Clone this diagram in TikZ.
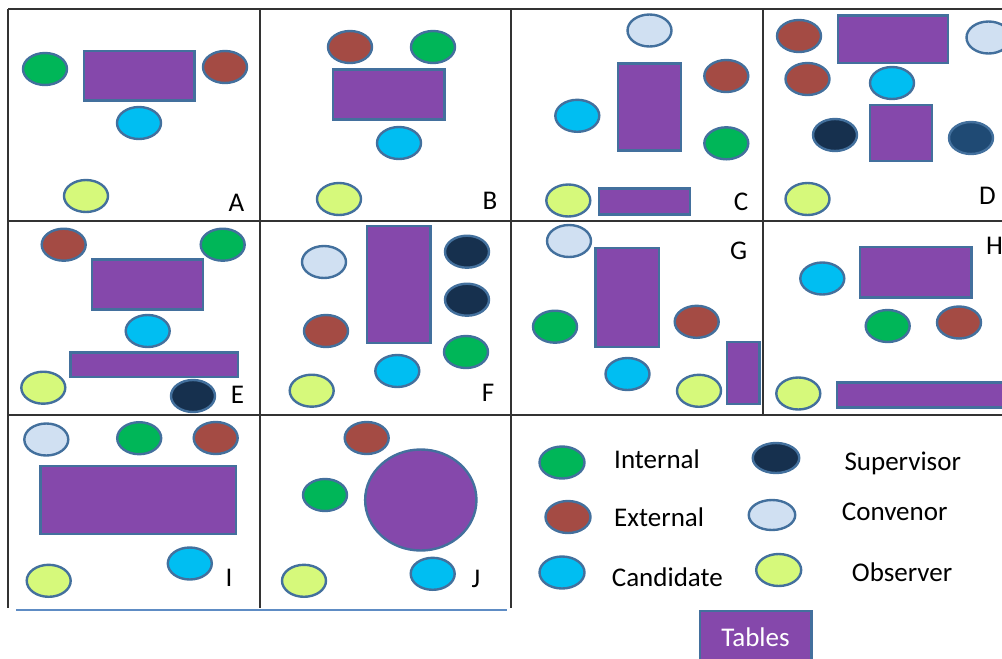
\documentclass[tikz,border=0pt]{standalone}
\usepackage{fontspec}
\setmainfont{Carlito}
\usetikzlibrary{shapes.geometric}

\definecolor{edgeC}{HTML}{43709D}
\definecolor{deskC}{HTML}{8548AB}
\definecolor{gridC}{HTML}{333333}
\definecolor{baseC}{HTML}{5E8CC4}
\definecolor{intC}{HTML}{00B658}
\definecolor{extC}{HTML}{A44B44}
\definecolor{candC}{HTML}{00BEF2}
\definecolor{obsC}{HTML}{D6F97B}
\definecolor{supC}{HTML}{16304E}
\definecolor{convC}{HTML}{D0E0F2}
\definecolor{deepC}{HTML}{1F4A74}

\begin{document}
\begin{tikzpicture}[x=1pt,y=-1pt,
  seat/.style={ellipse, draw=edgeC, line width=2.4pt, minimum width=44pt,
    minimum height=32pt, inner sep=0pt},
  int/.style={seat, fill=intC},
  ext/.style={seat, fill=extC},
  cand/.style={seat, fill=candC},
  obs/.style={seat, fill=obsC},
  sup/.style={seat, fill=supC},
  conv/.style={seat, fill=convC},
  deep/.style={seat, fill=deepC},
  desk/.style={draw=edgeC, fill=deskC, line width=2.4pt},
  rule/.style={draw=gridC, line width=1.6pt},
  tag/.style={font=\fontsize{27}{30}\selectfont, inner sep=0pt, anchor=base},
  key/.style={font=\fontsize{27}{30}\selectfont, inner sep=0pt, anchor=base west}]

\useasboundingbox (0,0) rectangle (1002,659);
\clip (0,0) rectangle (1002,659);

% grid of layouts
\draw[rule] (8,9) -- (1010,9);
\draw[rule] (8,221) -- (1010,221);
\draw[rule] (8,415) -- (1010,415);
\draw[rule] (8,9) -- (8,608);
\draw[rule] (260,9) -- (260,608);
\draw[rule] (511,9) -- (511,608);
\draw[rule] (763,9) -- (763,415);
\draw[draw=baseC, line width=1.5pt] (16,610) -- (507,610);

% layout A
\draw[desk] (84,51.2) rectangle (194.5,100.5);
\node[int]  (a1) at (45,69) {};
\node[ext]  (a2) at (225,67) {};
\node[cand] (a3) at (139,123) {};
\node[obs]  (a4) at (86,196) {};
\node[tag]  (la) at (236.5,211) {A};

% layout B
\draw[desk] (333,69.5) rectangle (444.5,119.5);
\node[ext]  (b1) at (350,47) {};
\node[int]  (b2) at (433,47) {};
\node[cand] (b3) at (399,143) {};
\node[obs]  (b4) at (339,199) {};
\node[tag]  (lb) at (490,209) {B};

% layout C
\draw[desk] (618,63.5) rectangle (681,150.5);
\draw[desk] (599,188.5) rectangle (690,214.5);
\node[conv] (c1) at (649.5,30.5) {};
\node[ext]  (c2) at (726.3,76) {};
\node[cand] (c3) at (577.3,115.8) {};
\node[int]  (c4) at (726.3,143.3) {};
\node[obs]  (c5) at (568.3,200.5) {};
\node[tag]  (lc) at (741,210) {C};

% layout D
\draw[desk] (838,15.5) rectangle (948,62.8);
\draw[desk] (870.2,105) rectangle (932,161);
\node[ext]  (d1) at (799,36) {};
\node[conv] (d2) at (988.5,37.5) {};
\node[ext]  (d3) at (807.5,79) {};
\node[cand] (d4) at (892,83) {};
\node[sup]  (d5) at (835,135) {};
\node[deep] (d6) at (971,138) {};
\node[obs]  (d7) at (807.5,199) {};
\node[tag]  (ld) at (987.5,204) {D};

% layout E
\draw[desk] (92,259.5) rectangle (203,309.5);
\draw[desk] (70.5,352.5) rectangle (237.8,377);
\node[ext]  (e1) at (63.7,244.7) {};
\node[int]  (e2) at (222.7,244.7) {};
\node[cand] (e3) at (147.7,331) {};
\node[obs]  (e4) at (43.3,387.7) {};
\node[sup]  (e5) at (193,396) {};
\node[tag]  (le) at (237.5,403.3) {E};

% layout F
\draw[desk] (367,226.2) rectangle (430.5,342.8);
\node[conv] (f1) at (324,262) {};
\node[sup]  (f2) at (467,251.7) {};
\node[sup]  (f3) at (467,299.7) {};
\node[ext]  (f4) at (326,331) {};
\node[int]  (f5) at (466,352) {};
\node[cand] (f6) at (397.3,371) {};
\node[obs]  (f7) at (311.7,390.7) {};
\node[tag]  (lf) at (488,401.7) {F};

% layout G
\draw[desk] (595.5,248) rectangle (658.8,347);
\draw[desk] (727,342.2) rectangle (759.5,403.8);
\node[conv] (g1) at (569,241) {};
\node[int]  (g2) at (555,326.7) {};
\node[ext]  (g3) at (696.7,321.8) {};
\node[cand] (g4) at (627.5,374) {};
\node[obs]  (g5) at (699,390.8) {};
\node[tag]  (lg) at (738.7,259.3) {G};

% layout H
\draw[desk] (860.2,247) rectangle (971.5,297.5);
\draw[desk] (837,382.5) rectangle (1010,407.5);
\node[cand] (h1) at (822.3,278.5) {};
\node[int]  (h2) at (887.7,326) {};
\node[ext]  (h3) at (959,322.5) {};
\node[obs]  (h4) at (798.3,393.5) {};
\node[key]  (lh) at (986,254) {H};

% layout I
\draw[desk] (40.5,466.2) rectangle (236,533.8);
\node[conv] (i1) at (46.3,439.5) {};
\node[int]  (i2) at (139.2,438.2) {};
\node[ext]  (i3) at (215.7,438) {};
\node[cand] (i4) at (189.8,563.5) {};
\node[obs]  (i5) at (48.7,580.8) {};
\node[tag]  (li) at (229,586.7) {I};

% layout J
\node[ellipse, desk, minimum width=111.3pt, minimum height=101pt, inner sep=0pt]
  (jt) at (420.8,500) {};
\node[ext]  (j1) at (366.7,438) {};
\node[int]  (j2) at (325,495) {};
\node[cand] (j3) at (432.7,573.8) {};
\node[obs]  (j4) at (304,580.8) {};
\node[tag]  (lj) at (476,587.7) {J};

% legend
\node[int, minimum width=45pt]  (k1) at (562,462.5) {};
\node[ext, minimum width=45pt]  (k2) at (568,517) {};
\node[cand, minimum width=45pt] (k3) at (562,572.5) {};
\node[sup, minimum width=46.5pt, minimum height=30pt]  (k4) at (776,458) {};
\node[conv, minimum width=46.5pt, minimum height=30pt] (k5) at (772,515) {};
\node[obs, minimum width=45pt]  (k6) at (778.7,570) {};
\node[key] (t1) at (614,468.3) {Internal};
\node[key] (t2) at (614,526.7) {External};
\node[key] (t3) at (611.7,586.7) {Candidate};
\node[key] (t4) at (844.3,470) {Supervisor};
\node[key] (t5) at (841.7,520.7) {Convenor};
\node[key] (t6) at (851.7,581) {Observer};
\draw[desk] (700.2,611.2) rectangle (811.5,670);
\node[tag, text=white] (t7) at (755.5,646.7) {Tables};
\end{tikzpicture}
\end{document}
